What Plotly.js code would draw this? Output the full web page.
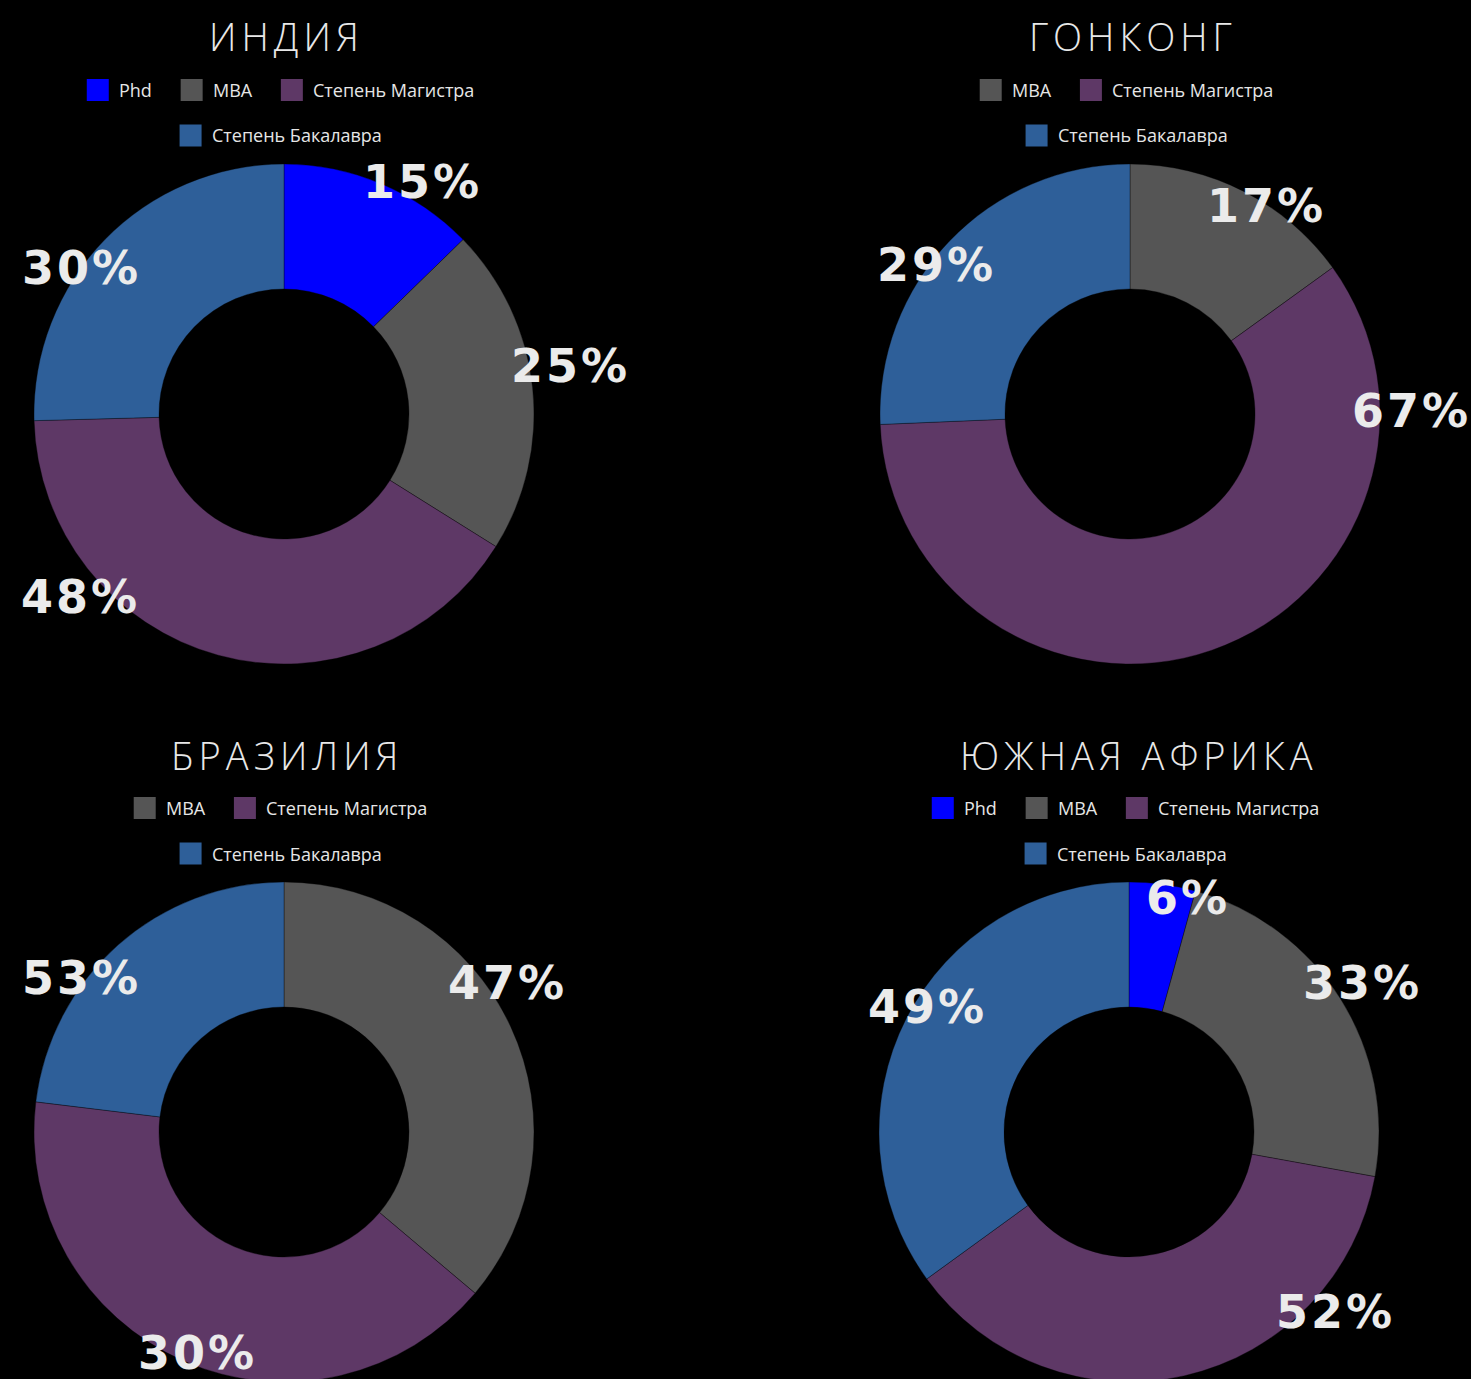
<!DOCTYPE html>
<html>
<head>
<meta charset="utf-8">
<script src="https://cdn.plot.ly/plotly-3.0.1.min.js"></script>
<style>
  html, body { margin: 0; padding: 0; background: #000; overflow: hidden; }
  #wrap { width: 1471px; height: 1379px; overflow: hidden; background: #000; }
  #chart { width: 1471px; height: 1400px; }
</style>
</head>
<body>
<div id="wrap"><div id="chart"></div></div>
<script>
// ---------------- DATA ----------------
const countries = ['ИНДИЯ', 'ГОНКОНГ', 'БРАЗИЛИЯ', 'ЮЖНАЯ АФРИКА'];

const indiaLabels = ['Phd', 'MBA', 'Степень Магистра', 'Степень Бакалавра'];
const indiaValues = [15, 25, 48, 30];
const indiaText = ['15%', '25%', '48%', '30%'];

const hongKongLabels = ['MBA', 'Степень Магистра', 'Степень Бакалавра'];
const hongKongValues = [17, 67, 29];
const hongKongText = ['17%', '67%', '29%'];

const brazilLabels = ['MBA', 'Степень Магистра', 'Степень Бакалавра'];
const brazilValues = [47, 53, 30];
const brazilText = ['47%', '30%', '53%'];

const southAfricaLabels = ['Phd', 'MBA', 'Степень Магистра', 'Степень Бакалавра'];
const southAfricaValues = [6, 33, 52, 49];
const southAfricaText = ['6%', '33%', '52%', '49%'];

// ---------------- STYLE / LAYOUT CONFIG ----------------
const categoryColors = {
  'Phd': '#0000ff',
  'MBA': '#555555',
  'Степень Магистра': '#5e3866',
  'Степень Бакалавра': '#2e5f99'
};

const W = 1471, H = 1400;
const R = 250;
const cells = [
  { cx: 284,  cy: 414,  top: 0,   titleX: 284 },
  { cx: 1130, cy: 414,  top: 0,   titleX: 1130 },
  { cx: 284,  cy: 1132, top: 718, titleX: 284 },
  { cx: 1129, cy: 1132, top: 718, titleX: 1136 }
];
// label placement: [angle clockwise from 12 o'clock (deg), distance in radii]
const labelPlacement = [
  [[30.6, 1.078], [80.4, 1.156], [228.2, 1.098], [305.6, 1.004]],
  [[33.0, 0.992], [89.4, 1.12], [307.4, 0.982]],
  [[56.1, 1.07], [201.7, 0.953], [307.0, 1.022]],
  [[13.7, 0.963], [57.3, 1.103], [131.3, 1.091], [301.6, 0.954]]
];

const charts = [
  { title: countries[0], labels: indiaLabels, values: indiaValues, text: indiaText },
  { title: countries[1], labels: hongKongLabels, values: hongKongValues, text: hongKongText },
  { title: countries[2], labels: brazilLabels, values: brazilValues, text: brazilText },
  { title: countries[3], labels: southAfricaLabels, values: southAfricaValues, text: southAfricaText }
];

const xp = px => px / W;
const yp = py => 1 - py / H;

const LEG_FONT = 18, LEG_FAMILY = 'Open Sans';
const BOX = 22, BOX_GAP = 9, ITEM_GAP = 30, LEG_MAX_W = 460;
const TITLE_SPACING = 5, LABEL_SPACING = 3;
const measureCanvas = document.createElement('canvas').getContext('2d');
measureCanvas.font = LEG_FONT + 'px "' + LEG_FAMILY + '"';
const textWidth = t => measureCanvas.measureText(t).width;
const spaced = (t, s) => '<span style="letter-spacing:' + s + 'px">' + t + '</span>';

const traces = [];
const annotations = [];
const shapes = [];

charts.forEach((c, i) => {
  const cell = cells[i];
  traces.push({
    type: 'pie',
    labels: c.labels,
    values: c.values,
    sort: false,
    direction: 'clockwise',
    rotation: 0,
    hole: 0.5,
    textinfo: 'none',
    hoverinfo: 'label+value',
    showlegend: false,
    marker: {
      colors: c.labels.map(l => categoryColors[l]),
      line: { color: 'rgba(0,0,0,0.35)', width: 1 }
    },
    domain: {
      x: [xp(cell.cx - R), xp(cell.cx + R)],
      y: [yp(cell.cy + R), yp(cell.cy - R)]
    }
  });

  // title
  annotations.push({
    text: spaced(c.title, TITLE_SPACING), xref: 'paper', yref: 'paper',
    x: xp(cell.titleX + TITLE_SPACING / 2), y: yp(cell.top + 36.5),
    xanchor: 'center', yanchor: 'middle', showarrow: false,
    font: { family: 'Open Sans', size: 38, color: '#e8e8e8', weight: 300 }
  });

  // legend (wrapped rows, centered)
  const items = c.labels.map(l => ({ label: l, w: BOX + BOX_GAP + textWidth(l) }));
  const rows = [];
  let cur = [], curW = 0;
  items.forEach(it => {
    const add = (cur.length ? ITEM_GAP : 0) + it.w;
    if (cur.length && curW + add > LEG_MAX_W) { rows.push({ items: cur, w: curW }); cur = []; curW = 0; }
    curW += (cur.length ? ITEM_GAP : 0) + it.w;
    cur.push(it);
  });
  if (cur.length) rows.push({ items: cur, w: curW });
  rows.forEach((row, r) => {
    const yc = cell.top + 90 + r * 45.5;
    let x = cell.cx - 4 - row.w / 2;
    row.items.forEach(it => {
      shapes.push({
        type: 'rect', xref: 'paper', yref: 'paper',
        x0: xp(x), x1: xp(x + BOX), y0: yp(yc + BOX / 2), y1: yp(yc - BOX / 2),
        fillcolor: categoryColors[it.label], line: { width: 0 }
      });
      annotations.push({
        text: it.label, xref: 'paper', yref: 'paper',
        x: xp(x + BOX + BOX_GAP), y: yp(yc),
        xanchor: 'left', yanchor: 'middle', showarrow: false, borderpad: 0,
        font: { family: LEG_FAMILY, size: LEG_FONT, color: '#e6e6e6' }
      });
      x += it.w + ITEM_GAP;
    });
  });

  // value labels
  c.text.forEach((t, k) => {
    const [ang, dist] = labelPlacement[i][k];
    const a = ang * Math.PI / 180;
    annotations.push({
      text: spaced(t, LABEL_SPACING), xref: 'paper', yref: 'paper',
      x: xp(cell.cx + dist * R * Math.sin(a) + LABEL_SPACING / 2),
      y: yp(cell.cy - dist * R * Math.cos(a)),
      xanchor: 'center', yanchor: 'middle', showarrow: false,
      font: { family: 'DejaVu Sans', size: 46, color: '#ebebeb', weight: 'bold' }
    });
  });
});

const layout = {
  width: W, height: H,
  margin: { l: 0, r: 0, t: 0, b: 0, pad: 0 },
  paper_bgcolor: '#000000',
  plot_bgcolor: '#000000',
  showlegend: false,
  annotations: annotations,
  shapes: shapes
};

Plotly.newPlot('chart', traces, layout, { displayModeBar: false, staticPlot: true });
</script>
</body>
</html>
